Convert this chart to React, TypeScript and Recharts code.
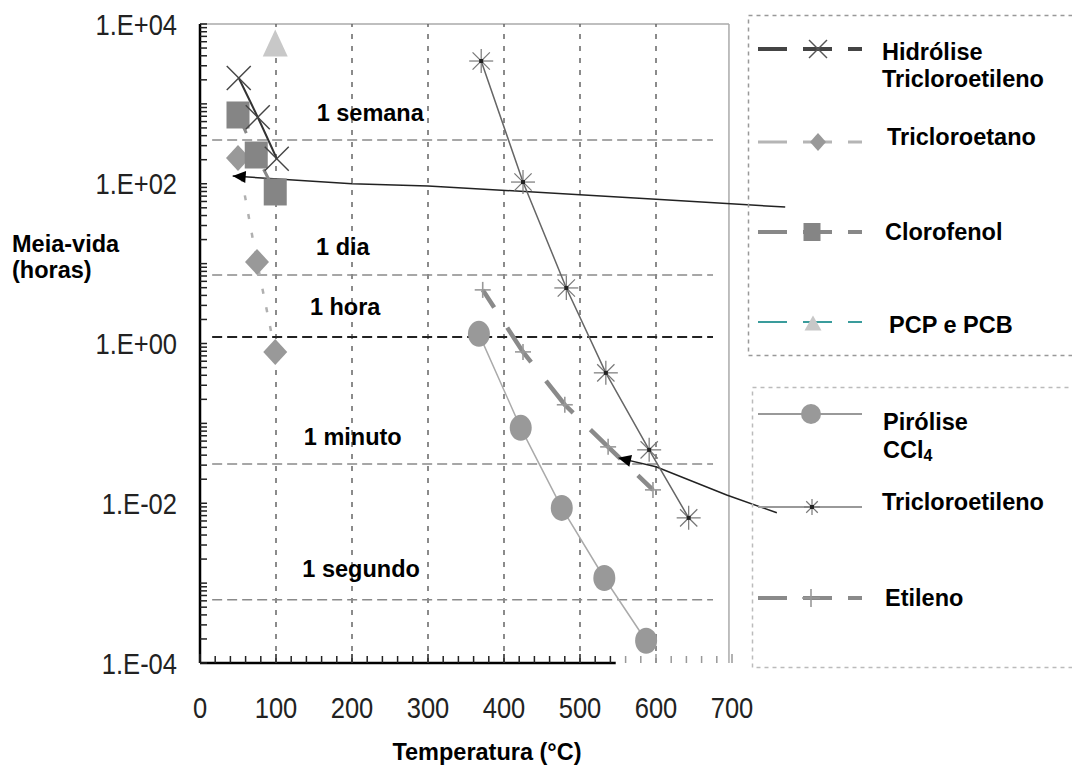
import React from 'react';
import { LineChart, Line, XAxis, YAxis, ReferenceLine, ReferenceDot } from 'recharts';

// ---------------- data ----------------
const hidroliseTricloroetileno = [
  { x: 51, y: 2110 },
  { x: 76, y: 680 },
  { x: 101, y: 206 },
];
const tricloroetano = [
  { x: 50, y: 210 },
  { x: 75, y: 10.5 },
  { x: 99, y: 0.785 },
];
const clorofenol = [
  { x: 50, y: 726 },
  { x: 74, y: 229 },
  { x: 99, y: 78.9 },
];
const pcpPcb = [{ x: 99, y: 5800 }];
const piroliseCCl4 = [
  { x: 367, y: 1.32 },
  { x: 422, y: 0.0879 },
  { x: 476, y: 0.00875 },
  { x: 532, y: 0.00116 },
  { x: 587, y: 0.00019 },
];
const tricloroetileno = [
  { x: 370, y: 3440 },
  { x: 425, y: 105 },
  { x: 482, y: 4.96 },
  { x: 534, y: 0.429 },
  { x: 591, y: 0.0466 },
  { x: 643, y: 0.00656 },
];
const etileno = [
  { x: 372, y: 4.69 },
  { x: 425, y: 0.785 },
  { x: 480, y: 0.171 },
  { x: 537, y: 0.0508 },
  { x: 596, y: 0.0147 },
];
// annotation pointer lines (from the legend entries into the plot)
const pointerHidrolise = [
  { x: 43, y: 125 },
  { x: 200, y: 100 },
  { x: 300, y: 94 },
  { x: 600, y: 64 },
  { x: 770, y: 51 },
];
const pointerTricloroetileno = [
  { x: 550, y: 0.037 },
  { x: 600, y: 0.0286 },
  { x: 693, y: 0.0127 },
  { x: 759, y: 0.0076 },
];

const timeLines = [
  { name: '1 semana', hours: 353 },
  { name: '1 dia', hours: 7.2 },
  { name: '1 hora', hours: 1.21 },
  { name: '1 minuto', hours: 0.0311 },
  { name: '1 segundo', hours: 0.000618 },
];

const xTickLabels = [0, 100, 200, 300, 400, 500, 600, 700];
const yTickLabels: Record<number, string> = {
  4: '1.E+04',
  2: '1.E+02',
  0: '1.E+00',
  [-2]: '1.E-02',
  [-4]: '1.E-04',
};
const gridX = [100, 200, 300, 400, 500, 600];

// ---------------- layout / style ----------------
const FONT = "'Liberation Sans', Arial, Helvetica, sans-serif";
const timeLabelLayout = [
  { x: 224, offset: 19 },
  { x: 188, offset: 20 },
  { x: 191, offset: 22 },
  { x: 201, offset: 19 },
  { x: 212, offset: 23 },
];
const xMinorTicks: number[] = [];
for (let v = 0; v <= 700; v += 20) xMinorTicks.push(v);
const yTicks: number[] = [];
for (let e = -4; e <= 4; e++) {
  for (let m = 1; m <= 9; m++) {
    if (e === 4 && m > 1) break;
    yTicks.push(m * Math.pow(10, e));
  }
}

// ---------------- marker shapes ----------------
const XMark = ({ cx, cy, s = 12, color = '#444' }: any) => (
  <g>
    <line x1={cx - s} y1={cy - s} x2={cx + s} y2={cy + s} stroke={color} strokeWidth={1.4} />
    <line x1={cx - s} y1={cy + s} x2={cx + s} y2={cy - s} stroke={color} strokeWidth={1.4} />
  </g>
);
const Star = ({ cx, cy, s = 12 }: any) => {
  const d = s * 0.72;
  return (
    <g>
      <line x1={cx - s} y1={cy} x2={cx + s} y2={cy} stroke="#777" strokeWidth={1.2} />
      <line x1={cx} y1={cy - s} x2={cx} y2={cy + s} stroke="#777" strokeWidth={1.2} />
      <line x1={cx - d} y1={cy - d} x2={cx + d} y2={cy + d} stroke="#777" strokeWidth={1.2} />
      <line x1={cx - d} y1={cy + d} x2={cx + d} y2={cy - d} stroke="#777" strokeWidth={1.2} />
      <rect x={cx - 2} y={cy - 2} width={4} height={4} fill="#222" />
    </g>
  );
};
const Diamond = ({ cx, cy, w = 12, h = 13 }: any) => (
  <polygon points={`${cx},${cy - h} ${cx + w},${cy} ${cx},${cy + h} ${cx - w},${cy}`} fill="#999" />
);
const Square = ({ cx, cy, w = 23, h = 27 }: any) => (
  <rect x={cx - w / 2} y={cy - h / 2} width={w} height={h} fill="#858585" />
);
const Triangle = ({ cx, cy, w = 25, h = 27 }: any) => (
  <polygon points={`${cx},${cy - h / 2} ${cx + w / 2},${cy + h / 2} ${cx - w / 2},${cy + h / 2}`} fill="#c8c8c8" />
);
const Ellipse = ({ cx, cy, rx = 11, ry = 13 }: any) => <ellipse cx={cx} cy={cy} rx={rx} ry={ry} fill="#999" />;
const Plus = ({ cx, cy, s = 8 }: any) => (
  <g>
    <line x1={cx - s} y1={cy} x2={cx + s} y2={cy} stroke="#999" strokeWidth={1.6} />
    <line x1={cx} y1={cy - s} x2={cx} y2={cy + s} stroke="#999" strokeWidth={1.6} />
  </g>
);
const Arrow = ({ cx, cy, angle, len = 13, half = 6 }: any) => (
  <polygon
    points={`0,0 ${len},${-half} ${len},${half}`}
    fill="#000"
    transform={`translate(${cx},${cy}) rotate(${angle})`}
  />
);

const dotWith = (Comp: any, extra: any = {}) => (p: any) => {
  if (p.cx == null || p.cy == null) return <g key={p.index} />;
  return (
    <g key={p.index}>
      <Comp cx={p.cx} cy={p.cy} {...extra} />
    </g>
  );
};
const arrowDot = (angle: number) => (p: any) => {
  if (p.index !== 0 || p.cx == null) return <g key={p.index} />;
  return (
    <g key={p.index}>
      <Arrow cx={p.cx} cy={p.cy} angle={angle} />
    </g>
  );
};

// ---------------- ticks ----------------
const XTick = (props: any) => {
  const { x, y, payload } = props;
  const v = payload.value;
  const isMajor = v % 100 === 0;
  const color = v > 545 ? '#999' : '#222';
  return (
    <g>
      <line x1={x} x2={x} y1={y} y2={y - (isMajor ? 9 : 7)} stroke={color} strokeWidth={1.5} />
      {isMajor && xTickLabels.includes(v) && (
        <text
          transform={`translate(${x},${y + 55}) scale(0.88,1)`}
          textAnchor="middle"
          fontSize={29}
          fontFamily={FONT}
          fill="#222"
        >
          {v}
        </text>
      )}
    </g>
  );
};
const YTick = (props: any) => {
  const { x, y, payload } = props;
  const v = payload.value;
  const e = Math.round(Math.log10(v));
  const isPow = Math.abs(v - Math.pow(10, e)) < 1e-6 * Math.pow(10, e);
  const label = isPow ? yTickLabels[e] : undefined;
  return (
    <g>
      <line x1={x} x2={x + 7} y1={y} y2={y} stroke="#222" strokeWidth={1.5} />
      {label && (
        <text
          transform={`translate(${x - 23},${y + 10.5}) scale(0.88,1)`}
          textAnchor="end"
          fontSize={29}
          fontFamily={FONT}
          fill="#222"
        >
          {label}
        </text>
      )}
    </g>
  );
};

// ---------------- legend ----------------
const LegendLine = ({ y, stroke, width, dash }: any) => (
  <line x1={758} x2={862} y1={y} y2={y} stroke={stroke} strokeWidth={width} strokeDasharray={dash} />
);
const legendText = { fontFamily: FONT, fontSize: 23.5, fontWeight: 700, fill: '#000' } as const;

const Overlay = () => (
  <svg
    width={1072}
    height={769}
    style={{ position: 'absolute', left: 0, top: 0, pointerEvents: 'none' }}
  >
    {/* legend boxes */}
    <rect x={748.5} y={15.5} width={340} height={340} fill="none" stroke="#999" strokeWidth={1.5} strokeDasharray="4 4" />
    <rect x={752.5} y={387.5} width={340} height={280} fill="none" stroke="#bbb" strokeWidth={1.5} strokeDasharray="4 4" />

    {/* box 1 */}
    <LegendLine y={49} stroke="#444" width={4} dash="29 16" />
    <XMark cx={818} cy={49} s={9} color="#555" />
    <text x={882} y={60} {...legendText}>Hidrólise</text>
    <text x={882} y={87} {...legendText}>Tricloroetileno</text>

    <LegendLine y={142} stroke="#b5b5b5" width={3} dash="29 16" />
    <Diamond cx={818} cy={142} w={8} h={9} />
    <text x={887} y={145} {...legendText}>Tricloroetano</text>

    <LegendLine y={232} stroke="#888" width={4} dash="29 16" />
    <Square cx={812} cy={232} w={17} h={18} />
    <text x={885} y={240} {...legendText}>Clorofenol</text>

    <LegendLine y={322} stroke="#3a9c9c" width={2} dash="29 16" />
    <Triangle cx={813} cy={323} w={17} h={15} />
    <text x={889} y={333} {...legendText}>PCP e PCB</text>

    {/* box 2 */}
    <LegendLine y={414} stroke="#999" width={2} />
    <Ellipse cx={811} cy={414} rx={10} ry={10} />
    <text x={883} y={430} {...legendText}>Pirólise</text>
    <text x={883} y={458} {...legendText}>
      CCl<tspan fontSize={16} dy={3}>4</tspan>
    </text>

    <LegendLine y={507} stroke="#999" width={2} />
    <Star cx={812} cy={507} s={8} />
    <text x={882} y={510} {...legendText}>Tricloroetileno</text>

    <LegendLine y={598} stroke="#8a8a8a" width={4} dash="29 16" />
    <Plus cx={811} cy={598} s={9} />
    <text x={885} y={606} {...legendText}>Etileno</text>

    {/* axis titles */}
    <text x={12} y={252} {...legendText}>Meia-vida</text>
    <text x={12} y={278} {...legendText}>(horas)</text>
    <text x={487} y={760} textAnchor="middle" {...legendText}>Temperatura (°C)</text>
  </svg>
);

// ---------------- chart ----------------
export default function App() {
  return (
    <div
      style={{
        position: 'absolute',
        left: 0,
        top: 0,
        width: 1072,
        height: 769,
        background: '#fff',
        fontFamily: FONT,
        overflow: 'hidden',
      }}
    >
      <LineChart width={1072} height={769} margin={{ top: 24, right: 264, bottom: 0, left: 0 }}>
        <XAxis
          type="number"
          dataKey="x"
          domain={[0, 800]}
          ticks={xMinorTicks}
          interval={0}
          axisLine={false}
          tickLine={false}
          tickSize={0}
          tickMargin={0}
          height={106}
          tick={(p: any) => <XTick {...p} />}
        />
        <YAxis
          type="number"
          dataKey="y"
          scale="log"
          domain={[1e-4, 1e4]}
          allowDataOverflow
          ticks={yTicks}
          interval={0}
          width={200}
          axisLine={{ stroke: '#000', strokeWidth: 2.5 }}
          tickLine={false}
          tickSize={0}
          tickMargin={0}
          tick={(p: any) => <YTick {...p} />}
        />

        {/* frame */}
        <ReferenceLine segment={[{ x: 0, y: 1e4 }, { x: 696, y: 1e4 }]} stroke="#aaa" strokeWidth={1.5} />
        <ReferenceLine segment={[{ x: 696, y: 1e-4 }, { x: 696, y: 1e4 }]} stroke="#aaa" strokeWidth={1.5} />
        <ReferenceLine segment={[{ x: 0, y: 1e-4 }, { x: 547, y: 1e-4 }]} stroke="#000" strokeWidth={2.5} />

        {/* vertical grid */}
        {gridX.map((g) => (
          <ReferenceLine key={g} x={g} stroke="#666" strokeWidth={1.5} strokeDasharray="5 7" />
        ))}

        {/* time reference lines */}
        {timeLines.map((t) => (
          <ReferenceLine
            key={t.name}
            segment={[{ x: 16, y: t.hours }, { x: 675, y: t.hours }]}
            stroke={t.name === '1 hora' ? '#222' : '#8a8a8a'}
            strokeWidth={t.name === '1 hora' ? 2 : 1.5}
            strokeDasharray="10 5"
          />
        ))}
        {timeLines.map((t, i) => (
          <ReferenceDot
            key={'lbl' + t.name}
            x={timeLabelLayout[i].x}
            y={t.hours}
            r={0}
            fill="none"
            stroke="none"
            label={{
              value: t.name,
              position: 'top',
              offset: timeLabelLayout[i].offset,
              fontSize: 23.5,
              fontWeight: 700,
              fill: '#000',
              fontFamily: FONT,
            }}
          />
        ))}

        {/* pointer annotations */}
        <Line
          data={pointerHidrolise}
          dataKey="y"
          stroke="#222"
          strokeWidth={1.5}
          dot={arrowDot(4)}
          activeDot={false}
          isAnimationActive={false}
          legendType="none"
        />
        <Line
          data={pointerTricloroetileno}
          dataKey="y"
          stroke="#222"
          strokeWidth={1.5}
          dot={arrowDot(13)}
          activeDot={false}
          isAnimationActive={false}
          legendType="none"
        />

        {/* series */}
        <Line
          data={piroliseCCl4}
          dataKey="y"
          name="Pirólise CCl4"
          stroke="#aaa"
          strokeWidth={1.5}
          dot={dotWith(Ellipse)}
          activeDot={false}
          isAnimationActive={false}
        />
        <Line
          data={tricloroetileno}
          dataKey="y"
          name="Tricloroetileno"
          stroke="#666"
          strokeWidth={1.5}
          dot={dotWith(Star)}
          activeDot={false}
          isAnimationActive={false}
        />
        <Line
          data={etileno}
          dataKey="y"
          name="Etileno"
          stroke="#8a8a8a"
          strokeWidth={4.5}
          strokeDasharray="42 24"
          strokeDashoffset={21}
          dot={dotWith(Plus)}
          activeDot={false}
          isAnimationActive={false}
        />
        <Line
          data={tricloroetano}
          dataKey="y"
          name="Tricloroetano"
          stroke="#b0b0b0"
          strokeWidth={2.5}
          strokeDasharray="5 14"
          dot={dotWith(Diamond)}
          activeDot={false}
          isAnimationActive={false}
        />
        <Line
          data={clorofenol}
          dataKey="y"
          name="Clorofenol"
          stroke="#888"
          strokeWidth={3}
          strokeDasharray="20 10"
          dot={dotWith(Square)}
          activeDot={false}
          isAnimationActive={false}
        />
        <Line
          data={hidroliseTricloroetileno}
          dataKey="y"
          name="Hidrólise Tricloroetileno"
          type="monotone"
          stroke="#333"
          strokeWidth={2}
          dot={dotWith(XMark)}
          activeDot={false}
          isAnimationActive={false}
        />
        <Line
          data={pcpPcb}
          dataKey="y"
          name="PCP e PCB"
          stroke="#3a9c9c"
          strokeWidth={2}
          dot={dotWith(Triangle)}
          activeDot={false}
          isAnimationActive={false}
        />
      </LineChart>
      <Overlay />
    </div>
  );
}
